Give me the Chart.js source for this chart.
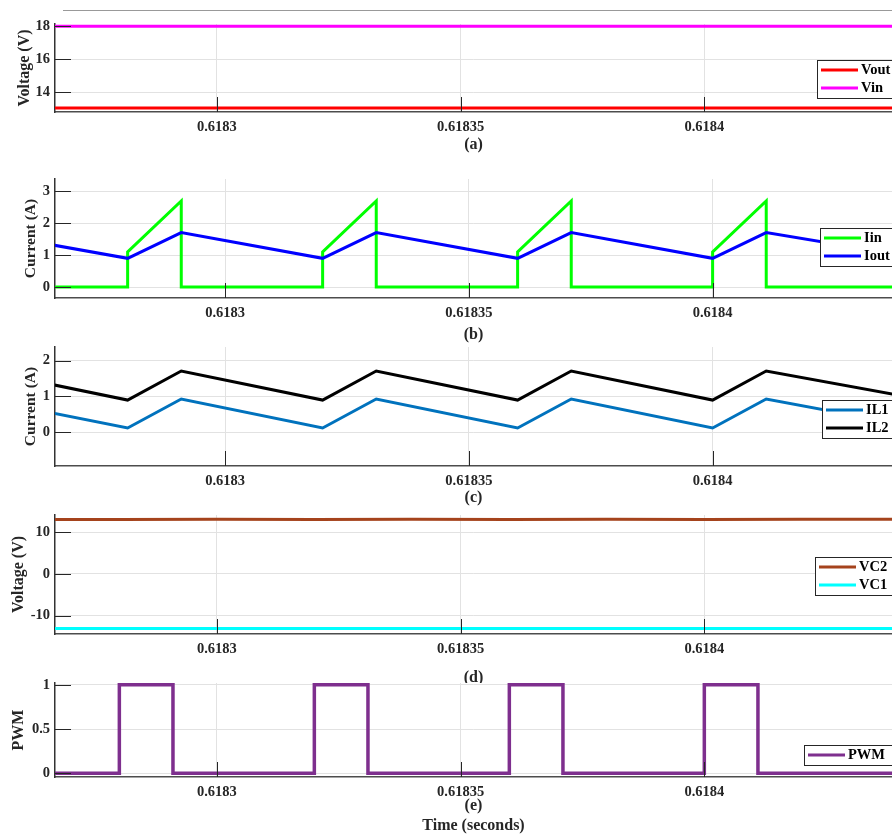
<!DOCTYPE html>
<html>
<head>
<meta charset="utf-8">
<script src="https://cdn.jsdelivr.net/npm/chart.js@4.4.0/dist/chart.umd.min.js"></script>
<style>
  html, body { margin: 0; padding: 0; background: #fff; }
  #wrap { position: relative; width: 892px; height: 835px; overflow: hidden; }
  #wrap canvas { position: absolute; left: 0; }
  #topline { position: absolute; left: 63px; top: 10px; width: 829px; border-top: 1px solid #999; }
</style>
</head>
<body>
<div id="wrap">
  <div id="topline"></div>
  <canvas id="pa"></canvas>
  <canvas id="pb"></canvas>
  <canvas id="pc"></canvas>
  <canvas id="pd"></canvas>
  <canvas id="pe"></canvas>
</div>
<script>
// time axis (seconds)
const xTickVals = [0.6183, 0.61835, 0.6184];
const xTickLabels = ['0.6183', '0.61835', '0.6184'];
const xRangeADE = [0.6182668, 0.6184385];
const xRangeBC = [0.6182651, 0.6184368];

// (a) voltages
const tFlat = [0.618265, 0.61844];
const vout = [13.03, 13.03];
const vin = [18, 18];
const yRangeA = [12.79, 18.14];
const yTicksA = [14, 16, 18];
const yLabelsA = ['14', '16', '18'];

// (b) input / output current
const tIin = [0.618265, 0.61828, 0.61828, 0.618291, 0.618291, 0.61832, 0.61832, 0.618331, 0.618331,
              0.61836, 0.61836, 0.618371, 0.618371, 0.6184, 0.6184, 0.618411, 0.618411, 0.61844];
const iin = [0, 0, 1.1, 2.7, 0, 0, 1.1, 2.7, 0, 0, 1.1, 2.7, 0, 0, 1.1, 2.7, 0, 0];
const tTri = [0.618265, 0.61828, 0.618291, 0.61832, 0.618331, 0.61836, 0.618371, 0.6184, 0.618411, 0.61844];
const iout = [1.31, 0.9, 1.71, 0.9, 1.71, 0.9, 1.71, 0.9, 1.71, 0.97];
const yRangeB = [-0.345, 3.39];
const yTicksB = [0, 1, 2, 3];
const yLabelsB = ['0', '1', '2', '3'];

// (c) inductor currents
const il1 = [0.53, 0.12, 0.93, 0.12, 0.93, 0.12, 0.93, 0.12, 0.93, 0.19];
const il2 = [1.32, 0.9, 1.71, 0.9, 1.71, 0.9, 1.71, 0.9, 1.71, 0.99];
const yRangeC = [-0.94, 2.38];
const yTicksC = [0, 1, 2];
const yLabelsC = ['0', '1', '2'];

// (d) capacitor voltages
const tVc2 = [0.618265, 0.61828, 0.6183, 0.61832, 0.61834, 0.61836, 0.61838, 0.6184, 0.61842, 0.61844];
const vc2 = [13.1, 13.05, 13.15, 13.05, 13.15, 13.05, 13.15, 13.05, 13.15, 13.1];
const vc1 = [-13.1, -13.1];
const yRangeD = [-14.39, 14.15];
const yTicksD = [-10, 0, 10];
const yLabelsD = ['-10', '0', '10'];

// (e) gate signal
const tPwm = [0.618265, 0.61828, 0.61828, 0.618291, 0.618291, 0.61832, 0.61832, 0.618331, 0.618331,
              0.61836, 0.61836, 0.618371, 0.618371, 0.6184, 0.6184, 0.618411, 0.618411, 0.61844];
const pwm = [0, 0, 1, 1, 0, 0, 1, 1, 0, 0, 1, 1, 0, 0, 1, 1, 0, 0];
const yRangeE = [-0.042, 1.02];
const yTicksE = [0, 0.5, 1];
const yLabelsE = ['0', '0.5', '1'];

const SERIF = '"Liberation Serif", "Times New Roman", serif';
const INK = '#262626';
const PAD_TOP = 15; // room above the plot for the top y tick label

function pts(t, v) {
  return t.map((x, i) => ({ x: x, y: v[i] }));
}

// white plot background so a panel covers the caption of the one above
const plotBg = {
  id: 'plotBg',
  beforeDraw(chart) {
    const { ctx, chartArea: a } = chart;
    ctx.save();
    ctx.fillStyle = '#fff';
    ctx.fillRect(a.left, a.top, a.right - a.left, a.bottom - a.top);
    ctx.restore();
  }
};

// MATLAB style ticks pointing into the plot
const inwardTicks = {
  id: 'inwardTicks',
  afterDatasetsDraw(chart) {
    const { ctx, chartArea: a, scales: { x, y } } = chart;
    ctx.save();
    ctx.strokeStyle = INK;
    ctx.lineWidth = 1;
    ctx.beginPath();
    y.ticks.forEach(t => {
      const py = Math.round(y.getPixelForValue(t.value)) + 0.5;
      ctx.moveTo(a.left, py);
      ctx.lineTo(a.left + 16, py);
    });
    x.ticks.forEach(t => {
      const px = Math.round(x.getPixelForValue(t.value)) + 0.5;
      ctx.moveTo(px, a.bottom);
      ctx.lineTo(px, a.bottom - 15);
    });
    ctx.stroke();
    ctx.restore();
  }
};

// boxed legend sitting inside the plot on the right
const boxLegend = {
  id: 'boxLegend',
  afterDraw(chart, args, opts) {
    if (opts.x === undefined) return;
    const ctx = chart.ctx;
    const sets = chart.data.datasets;
    const rowH = 18;
    const h = sets.length * rowH + 2;
    ctx.save();
    ctx.fillStyle = '#fff';
    ctx.fillRect(opts.x, opts.y, 120, h);
    ctx.strokeStyle = INK;
    ctx.lineWidth = 1;
    ctx.strokeRect(opts.x + 0.5, opts.y + 0.5, 120, h);
    ctx.font = 'bold 14.5px ' + SERIF;
    ctx.textBaseline = 'middle';
    sets.forEach((ds, i) => {
      const cy = opts.y + 10 + i * rowH;
      ctx.strokeStyle = ds.borderColor;
      ctx.lineWidth = 3;
      ctx.beginPath();
      ctx.moveTo(opts.x + 4, cy);
      ctx.lineTo(opts.x + 41, cy);
      ctx.stroke();
      ctx.fillStyle = '#000';
      ctx.fillText(ds.label, opts.x + 44, cy + 0.5);
    });
    ctx.restore();
  }
};

Chart.register(plotBg, inwardTicks, boxLegend);

const panels = [
  { id: 'pa', top: 24, bottom: 112, titleY: 145, xr: xRangeADE, yr: yRangeA, yt: yTicksA, yl: yLabelsA,
    yTitle: 'Voltage (V)', ySize: 16, yPad: 15, xTitle: '(a)', leg: [817, 60],
    sets: [
      { label: 'Vout', t: tFlat, v: vout, color: '#ff0000' },
      { label: 'Vin', t: tFlat, v: vin, color: '#ff00ff' }
    ] },
  { id: 'pb', top: 179, bottom: 298, titleY: 335, xr: xRangeBC, yr: yRangeB, yt: yTicksB, yl: yLabelsB,
    yTitle: 'Current (A)', ySize: 15.5, yPad: 22, xTitle: '(b)', leg: [820, 228],
    sets: [
      { label: 'Iin', t: tIin, v: iin, color: '#00ff00', order: 2 },
      { label: 'Iout', t: tTri, v: iout, color: '#0000ff', order: 1 }
    ] },
  { id: 'pc', top: 347, bottom: 466, titleY: 498, xr: xRangeBC, yr: yRangeC, yt: yTicksC, yl: yLabelsC,
    yTitle: 'Current (A)', ySize: 15.5, yPad: 22, xTitle: '(c)', leg: [822, 400],
    sets: [
      { label: 'IL1', t: tTri, v: il1, color: '#0072bd' },
      { label: 'IL2', t: tTri, v: il2, color: '#000000' }
    ] },
  { id: 'pd', top: 515, bottom: 634, titleY: 678, xr: xRangeADE, yr: yRangeD, yt: yTicksD, yl: yLabelsD,
    yTitle: 'Voltage (V)', ySize: 16, yPad: 9.5, xTitle: '(d)', leg: [815, 557],
    sets: [
      { label: 'VC2', t: tVc2, v: vc2, color: '#a5431c' },
      { label: 'VC1', t: tFlat, v: vc1, color: '#00ffff' }
    ] },
  { id: 'pe', top: 683, bottom: 777, titleY: 826, xr: xRangeADE, yr: yRangeE, yt: yTicksE, yl: yLabelsE,
    yTitle: 'PWM', ySize: 16, yPad: 9.5, xTitle: ['(e)', 'Time (seconds)'], leg: [804, 745],
    sets: [
      { label: 'PWM', t: tPwm, v: pwm, color: '#7e2f8e', w: 3.5 }
    ] }
];

panels.forEach(p => {
  const cv = document.getElementById(p.id);
  const cTop = p.top - PAD_TOP;
  const cBottom = p.titleY + 10;
  cv.width = 892;
  cv.height = cBottom - cTop;
  cv.style.top = cTop + 'px';
  const xH = cBottom - p.bottom;

  new Chart(cv, {
    type: 'line',
    data: {
      datasets: p.sets.map(s => ({
        label: s.label,
        data: pts(s.t, s.v),
        borderColor: s.color,
        borderWidth: s.w || 3,
        pointRadius: 0,
        tension: 0,
        fill: false,
        order: s.order || 0
      }))
    },
    options: {
      responsive: false,
      animation: false,
      devicePixelRatio: 1,
      layout: { padding: { top: PAD_TOP, left: 0, right: 0, bottom: 0 } },
      plugins: {
        legend: { display: false },
        tooltip: { enabled: false },
        boxLegend: { x: p.leg[0], y: p.leg[1] - cTop }
      },
      scales: {
        x: {
          type: 'linear',
          min: p.xr[0],
          max: p.xr[1],
          afterFit: s => { s.height = xH; },
          afterBuildTicks: s => { s.ticks = xTickVals.map(v => ({ value: v })); },
          ticks: {
            autoSkip: false,
            maxRotation: 0,
            padding: 7,
            color: INK,
            font: { family: SERIF, size: 14.5, weight: 'bold' },
            callback: v => xTickLabels[xTickVals.indexOf(v)]
          },
          grid: { color: '#e2e2e2', lineWidth: 1, drawTicks: false },
          border: { display: true, color: '#4d4d4d', width: 1.5 },
          title: {
            display: true,
            text: p.xTitle,
            padding: 0,
            color: INK,
            font: { family: SERIF, size: 16, weight: 'bold', lineHeight: 1.25 }
          }
        },
        y: {
          type: 'linear',
          min: p.yr[0],
          max: p.yr[1],
          afterFit: s => { s.width = 55; },
          afterBuildTicks: s => { s.ticks = p.yt.map(v => ({ value: v })); },
          ticks: {
            autoSkip: false,
            padding: 5,
            color: INK,
            font: { family: SERIF, size: 14.5, weight: 'bold' },
            callback: v => p.yl[p.yt.indexOf(v)]
          },
          grid: { color: '#e2e2e2', lineWidth: 1, drawTicks: false },
          border: { display: true, color: '#333333', width: 1.5 },
          title: {
            display: true,
            text: p.yTitle,
            padding: { top: p.yPad, bottom: 0 },
            color: INK,
            font: { family: SERIF, size: p.ySize, weight: 'bold', lineHeight: 1.2 }
          }
        }
      }
    }
  });
});
</script>
</body>
</html>
